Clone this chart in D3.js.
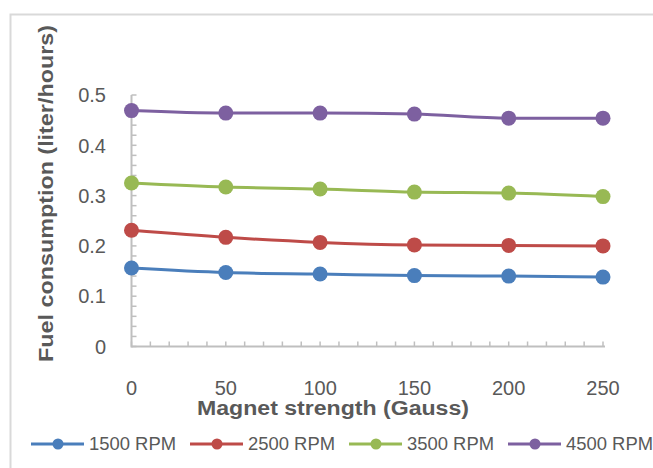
<!DOCTYPE html>
<html><head><meta charset="utf-8">
<script src="https://cdn.jsdelivr.net/npm/d3@7"></script>
<style>body{margin:0;background:#fff}svg{display:block}</style>
</head><body>
<svg id="c" width="653" height="468"></svg>
<script>
const xValues = [0, 50, 100, 150, 200, 250];
const seriesNames = ["1500 RPM", "2500 RPM", "3500 RPM", "4500 RPM"];
const seriesColors = ["#4A7EBB", "#BE4B48", "#98B954", "#7D60A0"];
const rpm1500 = [0.156, 0.147, 0.144, 0.141, 0.140, 0.138];
const rpm2500 = [0.231, 0.217, 0.207, 0.202, 0.201, 0.200];
const rpm3500 = [0.325, 0.317, 0.313, 0.307, 0.305, 0.298];
const rpm4500 = [0.469, 0.464, 0.464, 0.462, 0.454, 0.454];
const yTicks = [0, 0.1, 0.2, 0.3, 0.4, 0.5];
const xTicks = [0, 50, 100, 150, 200, 250];
const xTitle = "Magnet strength (Gauss)";
const yTitle = "Fuel consumption (liter/hours)";

const series = [rpm1500, rpm2500, rpm3500, rpm4500];
const svg = d3.select("#c");
const font = "'Liberation Sans', Arial, sans-serif";
const textCol = "#595959";
const axisCol = "#BFBFBF";

// chart border
svg.append("rect").attr("x", 10.5).attr("y", 14.5).attr("width", 700).attr("height", 500)
  .attr("fill", "#fff").attr("stroke", "#D9D9D9").attr("stroke-width", 2);

const x = d3.scaleLinear().domain([0, 250]).range([131.5, 603]);
const y = d3.scaleLinear().domain([0, 0.5]).range([346.5, 95]);

// minor ticks (inside)
const g = svg.append("g");
d3.range(0, 251, 10).forEach(v => {
  g.append("line").attr("x1", x(v)).attr("x2", x(v)).attr("y1", y(0)).attr("y2", y(0) - 5)
    .attr("stroke", axisCol).attr("stroke-width", 1.5);
});
d3.range(0, 26).map(i => i * 0.02).forEach(v => {
  g.append("line").attr("x1", x(0)).attr("x2", x(0) + 5).attr("y1", y(v)).attr("y2", y(v))
    .attr("stroke", axisCol).attr("stroke-width", 1.5);
});
// axis lines
g.append("line").attr("x1", x(0)).attr("x2", x(250) + 2).attr("y1", y(0)).attr("y2", y(0))
  .attr("stroke", axisCol).attr("stroke-width", 2);
g.append("line").attr("x1", x(0)).attr("x2", x(0)).attr("y1", y(0) + 1).attr("y2", y(0.5))
  .attr("stroke", axisCol).attr("stroke-width", 2);

// tick labels
svg.append("g").selectAll("text").data(yTicks).join("text")
  .attr("x", 106).attr("y", d => y(d)).attr("dy", "0.36em").attr("text-anchor", "end")
  .attr("font-family", font).attr("font-size", 20).attr("fill", textCol)
  .text(d => d === 0 ? "0" : d3.format(".1f")(d));
svg.append("g").selectAll("text").data(xTicks).join("text")
  .attr("x", d => x(d)).attr("y", 395).attr("text-anchor", "middle")
  .attr("font-family", font).attr("font-size", 20).attr("fill", textCol)
  .text(d => d);

// titles
svg.append("text").attr("x", 333).attr("y", 415).attr("text-anchor", "middle")
  .attr("font-family", font).attr("font-size", 20).attr("font-weight", "bold").attr("fill", textCol)
  .attr("textLength", 272).attr("lengthAdjust", "spacingAndGlyphs")
  .text(xTitle);
svg.append("text").attr("transform", "translate(53,193.5) rotate(-90)")
  .attr("text-anchor", "middle")
  .attr("font-family", font).attr("font-size", 21).attr("font-weight", "bold").attr("fill", textCol)
  .attr("textLength", 337).attr("lengthAdjust", "spacingAndGlyphs")
  .text(yTitle);

// lines
const line = d3.line().x((d, i) => x(xValues[i])).y(d => y(d)).curve(d3.curveMonotoneX);
series.forEach((s, k) => {
  svg.append("path").datum(s).attr("d", line).attr("fill", "none")
    .attr("stroke", seriesColors[k]).attr("stroke-width", 3).attr("stroke-linejoin", "round");
  svg.append("g").selectAll("circle").data(s).join("circle")
    .attr("cx", (d, i) => x(xValues[i])).attr("cy", d => y(d)).attr("r", 7.5)
    .attr("fill", seriesColors[k]);
});

// legend
const legX = [31, 190, 349, 508];
const lg = svg.append("g");
seriesNames.forEach((n, k) => {
  const lx = legX[k];
  lg.append("line").attr("x1", lx).attr("x2", lx + 53).attr("y1", 444).attr("y2", 444)
    .attr("stroke", seriesColors[k]).attr("stroke-width", 3);
  lg.append("circle").attr("cx", lx + 27).attr("cy", 444).attr("r", 5.5).attr("fill", seriesColors[k]);
  lg.append("text").attr("x", lx + 58).attr("y", 444).attr("dy", "0.36em")
    .attr("font-family", font).attr("font-size", 18).attr("fill", textCol)
    .attr("textLength", 87).attr("lengthAdjust", "spacingAndGlyphs")
    .text(n);
});
</script>
</body></html>
